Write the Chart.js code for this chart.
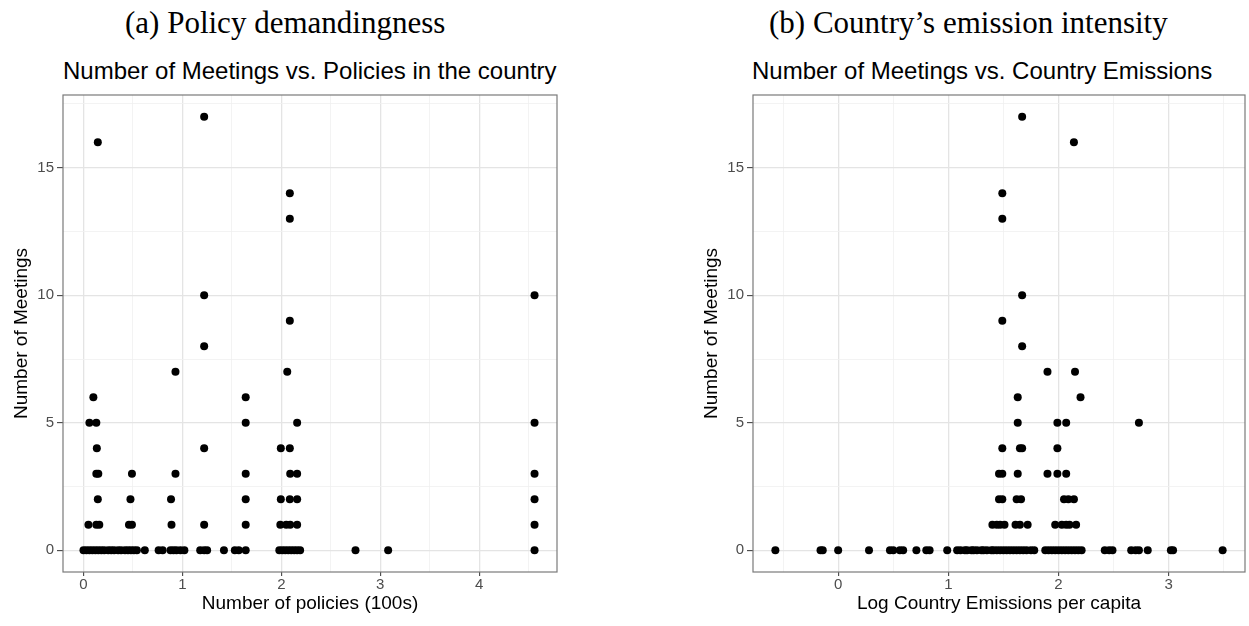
<!DOCTYPE html>
<html>
<head>
<meta charset="utf-8">
<script src="https://cdn.jsdelivr.net/npm/chart.js@4/dist/chart.umd.min.js"></script>
<style>
    body { margin: 0; background: #fff; width: 1249px; height: 626px; position: relative; overflow: hidden; }
    .caption { position: absolute; top: 5px; font-family: 'Liberation Serif', serif; font-size: 31px; color: #000; white-space: nowrap; }
    .plot-title { position: absolute; top: 57px; font-family: 'Liberation Sans', Arial, sans-serif; font-size: 24px; color: #000; white-space: nowrap; }
    .panel { position: absolute; }
</style>
</head>
<body>
<div class="caption" style="left:125px">(a) Policy demandingness</div>
<div class="caption" style="left:769px">(b) Country’s emission intensity</div>
<div class="plot-title" style="left:63px">Number of Meetings vs. Policies in the country</div>
<div class="plot-title" style="left:752px">Number of Meetings vs. Country Emissions</div>
<div class="panel" style="left:0px; top:83px; width:561px; height:543px"><canvas id="chart-policies"></canvas></div>
<div class="panel" style="left:690px; top:83px; width:559px; height:543px"><canvas id="chart-emissions"></canvas></div>
<script>
// (a) number of policies (100s) vs meetings, one entry per country point
const policyX = [
    0.00, 0.03, 0.06, 0.09, 0.12, 0.15, 0.18, 0.21, 0.25, 0.28, 0.31, 0.35, 0.38, 0.42, 0.45, 0.48, 0.51, 0.54,
    0.62, 0.76, 0.80, 0.88, 0.91, 0.94, 0.98, 1.02, 1.18, 1.22, 1.25, 1.42, 1.53, 1.57, 1.64,
    1.98, 2.01, 2.04, 2.07, 2.10, 2.13, 2.16, 2.19, 2.75, 3.08, 4.56,
    0.05, 0.13, 0.16, 0.46, 0.49, 0.89, 1.22, 1.64, 1.99, 2.05, 2.09, 2.16, 4.56,
    0.145, 0.475, 0.885, 1.64, 1.995, 2.086, 2.16, 4.56,
    0.13, 0.15, 0.49, 0.93, 1.64, 2.09, 2.16, 4.56,
    0.135, 1.22, 1.995, 2.086,
    0.06, 0.13, 1.64, 2.16, 4.56,
    0.10, 1.64,
    0.93, 2.06,
    1.22,
    2.086,
    1.22, 4.56,
    2.086,
    2.086,
    0.145,
    1.22
];
const policyMeetings = [
    0, 0, 0, 0, 0, 0, 0, 0, 0, 0, 0, 0, 0, 0, 0, 0, 0, 0,
    0, 0, 0, 0, 0, 0, 0, 0, 0, 0, 0, 0, 0, 0, 0,
    0, 0, 0, 0, 0, 0, 0, 0, 0, 0, 0,
    1, 1, 1, 1, 1, 1, 1, 1, 1, 1, 1, 1, 1,
    2, 2, 2, 2, 2, 2, 2, 2,
    3, 3, 3, 3, 3, 3, 3, 3,
    4, 4, 4, 4,
    5, 5, 5, 5, 5,
    6, 6,
    7, 7,
    8,
    9,
    10, 10,
    13,
    14,
    16,
    17
];

// (b) log country emissions per capita vs meetings
const emissionX = [
    -0.57, -0.16, -0.14, 0.00, 0.28, 0.47, 0.50, 0.56, 0.59, 0.71, 0.80, 0.83, 0.99,
    1.08, 1.11, 1.15, 1.17, 1.21, 1.23, 1.26, 1.30, 1.32, 1.35, 1.39, 1.41, 1.44, 1.47, 1.50, 1.53, 1.56,
    1.59, 1.62, 1.65, 1.68, 1.71, 1.75, 1.78, 1.88, 1.91, 1.94, 1.97, 2.00, 2.03, 2.06, 2.09, 2.12,
    2.15, 2.18, 2.21, 2.42, 2.46, 2.49, 2.66, 2.70, 2.73, 2.81, 3.02, 3.04, 3.49,
    1.40, 1.44, 1.47, 1.51, 1.61, 1.65, 1.72, 1.97, 2.03, 2.07, 2.10, 2.16,
    1.46, 1.49, 1.62, 1.66, 2.05, 2.09, 2.14,
    1.46, 1.49, 1.63, 1.90, 1.99, 2.07,
    1.49, 1.65, 1.67, 1.99,
    1.63, 1.99, 2.07, 2.73,
    1.63, 2.20,
    1.90, 2.15,
    1.67,
    1.49,
    1.67,
    1.49,
    1.49,
    2.14,
    1.67
];
const emissionMeetings = [
    0, 0, 0, 0, 0, 0, 0, 0, 0, 0, 0, 0, 0,
    0, 0, 0, 0, 0, 0, 0, 0, 0, 0, 0, 0, 0, 0, 0, 0, 0,
    0, 0, 0, 0, 0, 0, 0, 0, 0, 0, 0, 0, 0, 0, 0, 0,
    0, 0, 0, 0, 0, 0, 0, 0, 0, 0, 0, 0, 0,
    1, 1, 1, 1, 1, 1, 1, 1, 1, 1, 1, 1,
    2, 2, 2, 2, 2, 2, 2,
    3, 3, 3, 3, 3, 3,
    4, 4, 4, 4,
    5, 5, 5, 5,
    6, 6,
    7, 7,
    8,
    9,
    10,
    13,
    14,
    16,
    17
];

const meetingTicks = [0, 5, 10, 15];
const policyTicks = [0, 1, 2, 3, 4];
const emissionTicks = [0, 1, 2, 3];

const sansFont = "'Liberation Sans', Arial, sans-serif";

// ggplot-like panel border around the plotting area
const panelBorder = {
    id: 'panelBorder',
    afterDraw(chart) {
        const { ctx, chartArea } = chart;
        ctx.save();
        ctx.strokeStyle = '#7a7a7a';
        ctx.lineWidth = 1.2;
        ctx.strokeRect(chartArea.left, chartArea.top, chartArea.right - chartArea.left, chartArea.bottom - chartArea.top);
        ctx.restore();
    }
};

function isMajor(value, majors) {
    return majors.some(m => Math.abs(m - value) < 1e-6);
}

// Build one scale: minor grid at half steps, labels + tick marks only on majors
function makeScale(min, max, step, majors, titleText, isX) {
    return {
        type: 'linear',
        min: min,
        max: max,
        afterFit: function(scale) {
            if (isX) scale.height = 54; else scale.width = 63;
        },
        ticks: {
            stepSize: step,
            includeBounds: false,
            autoSkip: false,
            maxRotation: 0,
            padding: isX ? 0 : 3,
            color: '#4d4d4d',
            font: { family: sansFont, size: 15 },
            callback: function(value) {
                return isMajor(value, majors) ? String(Math.round(value)) : '';
            }
        },
        grid: {
            drawTicks: true,
            tickLength: isX ? 4 : 6,
            color: ctx => isMajor(ctx.tick.value, majors) ? '#e4e4e4' : '#f0f0f0',
            lineWidth: ctx => isMajor(ctx.tick.value, majors) ? 1.3 : 0.8,
            tickColor: ctx => isMajor(ctx.tick.value, majors) ? '#333333' : 'rgba(0,0,0,0)',
            tickWidth: 1
        },
        border: { display: false },
        title: {
            display: true,
            text: titleText,
            color: '#000',
            font: { family: sansFont, size: 19 },
            padding: isX ? { top: 0, bottom: 11 } : { top: 10, bottom: 0 }
        }
    };
}

function makeScatter(canvasId, xs, ys, xMin, xMax, xMajors, xTitle) {
    const points = xs.map((x, i) => ({ x: x, y: ys[i] }));
    const ctx = document.getElementById(canvasId).getContext('2d');
    return new Chart(ctx, {
        type: 'scatter',
        data: {
            datasets: [{
                data: points,
                backgroundColor: '#000000',
                borderWidth: 0,
                pointRadius: 4,
                pointHoverRadius: 4
            }]
        },
        options: {
            responsive: true,
            maintainAspectRatio: false,
            animation: false,
            layout: { padding: { top: 5, right: 2, bottom: 0, left: 0 } },
            plugins: {
                legend: { display: false },
                tooltip: { enabled: false },
                title: { display: false }
            },
            scales: {
                x: makeScale(xMin, xMax, 0.5, xMajors, xTitle, true),
                y: makeScale(-0.85, 17.85, 2.5, meetingTicks, 'Number of Meetings', false)
            }
        },
        plugins: [panelBorder]
    });
}

document.addEventListener('DOMContentLoaded', function() {
    makeScatter('chart-policies', policyX, policyMeetings, -0.207, 4.787, policyTicks, 'Number of policies (100s)');
    makeScatter('chart-emissions', emissionX, emissionMeetings, -0.773, 3.693, emissionTicks, 'Log Country Emissions per capita');
});
</script>
</body>
</html>
